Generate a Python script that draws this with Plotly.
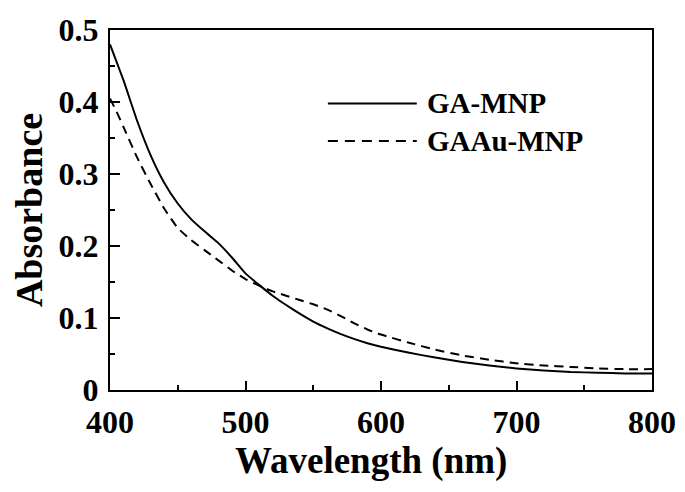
import plotly.graph_objects as go

wavelength = [400, 405, 410, 420, 430, 440, 450, 460, 470, 480, 490, 500, 510, 520,
              530, 540, 550, 560, 570, 580, 590, 600, 620, 640, 660, 680, 700, 720,
              740, 760, 780, 800]
ga_mnp = [0.480, 0.455, 0.430, 0.374, 0.326, 0.288, 0.259, 0.237, 0.220, 0.204, 0.184,
          0.162, 0.146, 0.131, 0.118, 0.106, 0.095, 0.086, 0.078, 0.071, 0.065, 0.060,
          0.052, 0.045, 0.039, 0.034, 0.030, 0.027, 0.025, 0.024, 0.023, 0.023]
gaau_mnp = [0.405, 0.386, 0.365, 0.323, 0.286, 0.252, 0.225, 0.208, 0.194, 0.180, 0.166,
            0.154, 0.145, 0.137, 0.131, 0.125, 0.119, 0.112, 0.103, 0.093, 0.084, 0.077,
            0.066, 0.056, 0.048, 0.042, 0.037, 0.034, 0.032, 0.030, 0.029, 0.029]
series_names = ["GA-MNP", "GAAu-MNP"]
x_ticks = [400, 500, 600, 700, 800]
y_ticks = [0, 0.1, 0.2, 0.3, 0.4, 0.5]
y_tick_text = ["0", "0.1", "0.2", "0.3", "0.4", "0.5"]
x_title = "Wavelength (nm)"
y_title = "Absorbance"

FONT = "Liberation Serif, Times New Roman, serif"
DASH = "9px,6px"

fig = go.Figure()
fig.add_trace(go.Scatter(x=wavelength, y=ga_mnp, mode="lines", name=series_names[0],
                         line=dict(color="black", width=2, shape="spline", smoothing=0.4)))
fig.add_trace(go.Scatter(x=wavelength, y=gaau_mnp, mode="lines", name=series_names[1],
                         line=dict(color="black", width=2, dash=DASH, shape="spline", smoothing=0.4)))

# manual legend with long line samples, as in the reference
for i, (name, dash) in enumerate(zip(series_names, ["solid", "10px,7px"])):
    yy = 0.796 - i * 0.104
    fig.add_shape(type="line", xref="paper", yref="paper", x0=0.402, x1=0.566,
                  y0=yy, y1=yy, line=dict(color="black", width=2, dash=dash))
    fig.add_annotation(xref="paper", yref="paper", x=0.581, y=yy, text="<b>%s</b>" % name,
                       showarrow=False, xanchor="left", yanchor="middle",
                       font=dict(family=FONT, size=29, color="black"))

# x-axis title (slightly left of centre, as in the reference)
fig.add_annotation(xref="paper", yref="paper", x=0.482, y=-0.133, text="<b>%s</b>" % x_title,
                   showarrow=False, xanchor="center", yanchor="top",
                   font=dict(family=FONT, size=37, color="black"))

axis_common = dict(showline=True, linecolor="black", linewidth=2, mirror=True,
                   ticks="inside", tickcolor="black", tickwidth=2, showgrid=False,
                   zeroline=False, tickfont=dict(family=FONT, size=32, color="black"))

fig.update_xaxes(range=[400, 800], tickvals=x_ticks, ticklen=9,
                 ticktext=["<b>%d</b>" % v for v in x_ticks], ticklabelstandoff=3,
                 minor=dict(ticks="inside", ticklen=5, tickwidth=2, tickcolor="black", dtick=50, tick0=400),
                 **axis_common)
fig.update_yaxes(range=[0, 0.5], tickvals=y_ticks, ticklen=10,
                 ticktext=["<b>%s</b>" % t for t in y_tick_text], ticklabelstandoff=3,
                 minor=dict(ticks="inside", ticklen=5, tickwidth=2, tickcolor="black", dtick=0.05, tick0=0),
                 title=dict(text="<b>%s</b>" % y_title, font=dict(family=FONT, size=38, color="black"),
                            standoff=8),
                 **axis_common)

# page body has an 8px margin, so the figure is sized to fit inside the window
fig.update_layout(width=669, height=476, showlegend=False,
                  margin=dict(l=102, r=25, t=22, b=94, autoexpand=False),
                  plot_bgcolor="white", paper_bgcolor="white")

fig.write_html("out.html")
